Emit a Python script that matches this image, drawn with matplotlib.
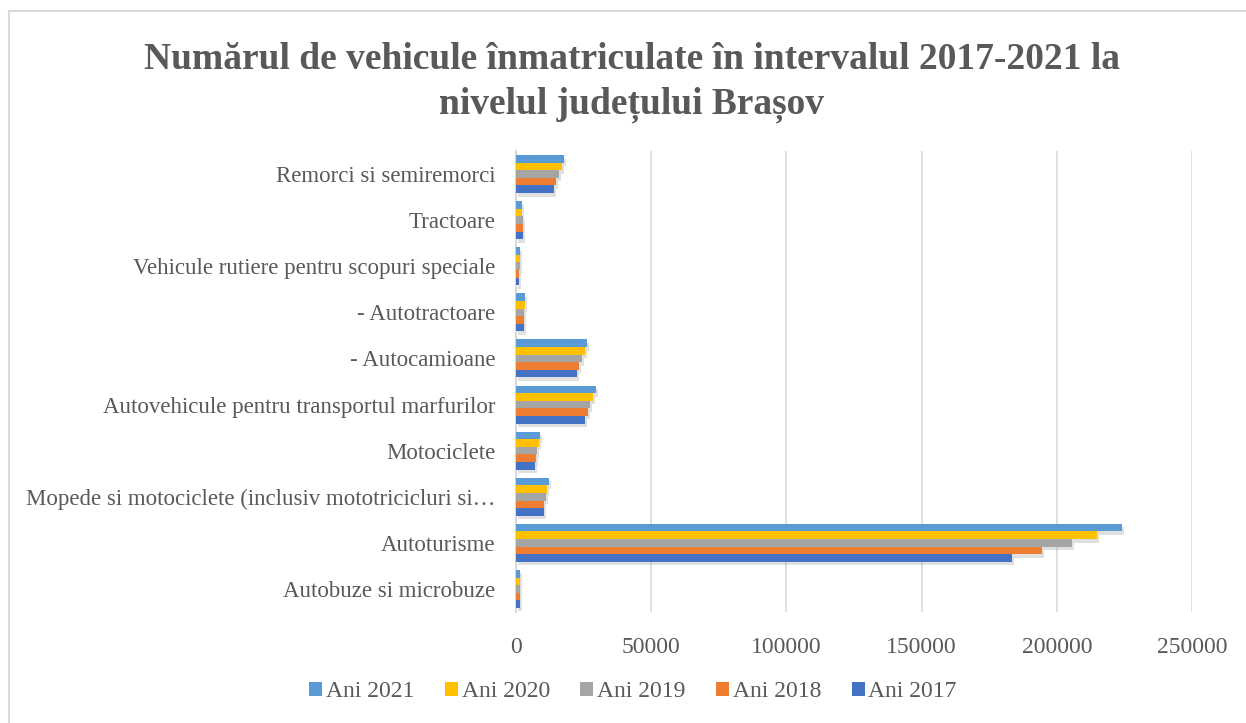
#!/usr/bin/env python3

import matplotlib
matplotlib.use("Agg")
import matplotlib.pyplot as plt
import matplotlib.patheffects as pe
from matplotlib.patches import Rectangle, Patch
import numpy as np

plt.rcParams['font.family'] = ['Liberation Serif', 'DejaVu Serif']

# categories, bottom to top
categories = [
    "Autobuze si microbuze",
    "Autoturisme",
    "Mopede si motociclete (inclusiv mototricicluri si\u2026",
    "Motociclete",
    "Autovehicule pentru transportul marfurilor",
    "- Autocamioane",
    "- Autotractoare",
    "Vehicule rutiere pentru scopuri speciale",
    "Tractoare",
    "Remorci si semiremorci",
]

ani_2017 = [1400, 183500, 10400, 7000, 25500, 22600, 3000, 1100, 2600, 14000]
ani_2018 = [1500, 194600, 10400, 7400, 26600, 23300, 3000, 1100, 2600, 14800]
ani_2019 = [1500, 205700, 11100, 7800, 27400, 24400, 3000, 1500, 2500, 16000]
ani_2020 = [1500, 215000, 11500, 8500, 28500, 25500, 3300, 1500, 2200, 17000]
ani_2021 = [1500, 224200, 12200, 8900, 29600, 26300, 3300, 1500, 2100, 17750]

series = [ani_2021, ani_2020, ani_2019, ani_2018, ani_2017]
labels = ["Ani 2021", "Ani 2020", "Ani 2019", "Ani 2018", "Ani 2017"]
colors = ["#5B9BD5", "#FFC000", "#A5A5A5", "#ED7D31", "#4472C4"]

txt = "#595959"

fig = plt.figure(figsize=(12.46, 7.23), dpi=100)
# outer chart border
fig.patches.append(Rectangle((9 / 1246, -0.2), 1.2, 1.2 - 11 / 723, transform=fig.transFigure,
                             fill=False, edgecolor="#d9d9d9", linewidth=1.5))

ax = fig.add_axes([516 / 1246, 111 / 723, 676 / 1246, 461 / 723])

y = np.arange(len(categories))
h = 0.165
shadow = [pe.SimplePatchShadow(offset=(1.5, -2.5), shadow_rgbFace="#999999", alpha=0.3), pe.Normal()]
for i, (vals, col) in enumerate(zip(series, colors)):
    pos = y + (2 - i) * h
    ax.barh(pos, vals, height=h, color=col, path_effects=shadow, zorder=3)

ax.set_xlim(0, 250000)
ax.set_ylim(-0.5, len(categories) - 0.5)
ax.set_xticks([0, 50000, 100000, 150000, 200000, 250000])
ax.set_xticklabels(["0", "50000", "100000", "150000", "200000", "250000"])
ax.set_yticks(y)
ax.set_yticklabels(categories)
ax.tick_params(axis="both", length=0, labelsize=16.5, colors=txt)
ax.tick_params(axis="x", labelsize=17, pad=18)
ax.tick_params(axis="y", pad=15)
ax.grid(axis="x", color="#d9d9d9", linewidth=1.2, zorder=0)
for s in ["top", "right", "bottom"]:
    ax.spines[s].set_visible(False)
ax.spines["left"].set_color("#d9d9d9")
ax.spines["left"].set_linewidth(1.5)

fig.text(0.507, 0.886, "Numărul de vehicule înmatriculate în intervalul 2017-2021 la\nnivelul județului Brașov",
         ha="center", va="center", fontsize=27, fontweight="bold", color=txt, linespacing=1.33)

handles = [Patch(facecolor=c, label=l) for c, l in zip(colors, labels)]
fig.legend(handles=handles, loc="center", bbox_to_anchor=(0.508, 0.043), ncol=5, frameon=False,
           fontsize=17, labelcolor=txt, handlelength=0.55, handleheight=0.55,
           handletextpad=0.15, columnspacing=1.3)

fig.savefig("out.png", dpi=100)
